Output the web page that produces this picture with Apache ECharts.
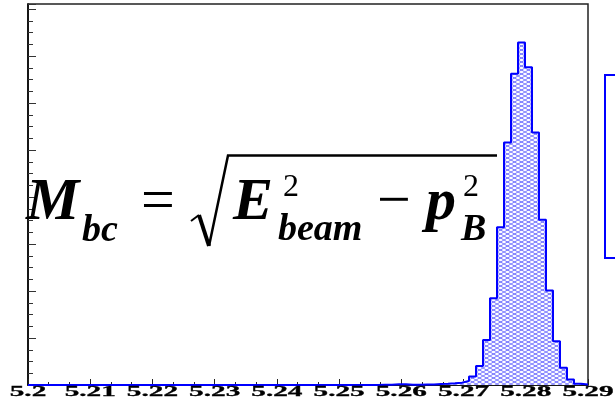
<!DOCTYPE html>
<html>
<head>
<meta charset="utf-8">
<script src="https://cdn.jsdelivr.net/npm/echarts@6/dist/echarts.min.js"></script>
<style>
  html, body { margin: 0; padding: 0; background: #fff; }
  #chart { width: 615px; height: 408px; }
</style>
</head>
<body>
<div id="chart"></div>
<script>
// Mbc histogram: 80 equal bins between 5.20 and 5.29 GeV
const histMin = 5.20;
const histMax = 5.29;
const binCounts = [
  0, 0, 0, 0, 0, 0, 0, 0, 0, 0,
  0, 0, 0, 0, 0, 0, 0, 0, 0, 0,
  0, 0, 0, 0, 0, 0, 0, 0, 0, 0,
  0, 0, 0, 0, 0, 0, 0, 0, 0, 0,
  0, 0, 0, 0, 0, 0, 0, 0, 0, 0,
  1, 1, 3, 3, 1, 1, 2, 2, 4, 5,
  7, 10, 17, 36, 81, 192, 369, 672, 1032, 1325,
  1458, 1353, 1075, 703, 402, 186, 73, 23, 5, 2
];
const xTickLabels = ['5.2', '5.21', '5.22', '5.23', '5.24', '5.25', '5.26', '5.27', '5.28', '5.29'];

const nBins = binCounts.length;
const binWidth = (histMax - histMin) / nBins;

// filled bins [lowEdge, highEdge, count]
const binData = binCounts.map((c, k) => [histMin + k * binWidth, histMin + (k + 1) * binWidth, c]);
// outline as a step line through the low edges, closed at the upper limit
const outline = binCounts.map((c, k) => [histMin + k * binWidth, c]);
outline.push([histMax, binCounts[nBins - 1]]);
outline.push([histMax, 0]);

// cross-hatch tile
const tile = document.createElement('canvas');
tile.width = 7; tile.height = 4;
(function () {
  const g = tile.getContext('2d');
  g.fillStyle = '#ffffff';
  g.fillRect(0, 0, 7, 4);
  g.strokeStyle = 'rgba(40,40,255,0.7)';
  g.lineWidth = 0.9;
  g.beginPath();
  g.moveTo(0, 0); g.lineTo(7, 4);
  g.moveTo(0, 4); g.lineTo(7, 0);
  g.stroke();
})();
const hatch = { image: tile, repeat: 'repeat' };

const chart = echarts.init(document.getElementById('chart'), null, { renderer: 'canvas' });

const serif = '"Liberation Serif", "Times New Roman", serif';

chart.setOption({
  animation: false,
  backgroundColor: '#ffffff',
  grid: { left: 28, right: 27, top: 4, bottom: 23, show: true, borderColor: '#222', borderWidth: 1.5, backgroundColor: 'transparent' },
  xAxis: {
    type: 'value', min: histMin, max: histMax, interval: 0.01,
    axisLine: { show: true, onZero: false, lineStyle: { color: '#000', width: 1.5 } },
    axisTick: { show: true, inside: true, length: 6, lineStyle: { color: '#222' } },
    minorTick: { show: true, splitNumber: 3, length: 3, lineStyle: { color: '#222' } },
    axisLabel: { show: false },
    splitLine: { show: false }
  },
  yAxis: {
    type: 'value', min: 0, max: 1622, interval: 200,
    axisLine: { show: true, lineStyle: { color: '#000', width: 1.5 } },
    axisTick: { show: true, inside: true, length: 8, lineStyle: { color: '#333' } },
    minorTick: { show: true, splitNumber: 4, length: 5, lineStyle: { color: '#333' } },
    axisLabel: { show: false },
    splitLine: { show: false }
  },
  series: [
    {
      type: 'custom',
      z: 3,
      data: binData,
      renderItem: function (params, api) {
        const lo = api.value(0), hi = api.value(1), v = api.value(2);
        if (v <= 0) return null;
        const p0 = api.coord([lo, 0]);
        const p1 = api.coord([hi, v]);
        return {
          type: 'rect',
          shape: { x: p0[0], y: p1[1], width: p1[0] - p0[0], height: p0[1] - p1[1] },
          style: { fill: hatch, stroke: null }
        };
      }
    },
    {
      type: 'line',
      z: 4,
      data: outline,
      step: 'end',
      showSymbol: false,
      symbol: 'none',
      lineStyle: { color: '#0000ff', width: 2 }
    }
  ]
});

// axis tick labels, drawn wide as in the ROOT style
const labelGraphics = xTickLabels.map(t => {
  const px = chart.convertToPixel({ xAxisIndex: 0 }, parseFloat(t));
  return {
    type: 'text', x: px, y: 392.5, scaleX: 1.95, z: 10,
    style: { text: t, x: 0, y: 0, align: 'center', verticalAlign: 'middle',
             font: 'bold 15px ' + serif, fill: '#000', stroke: '#000', lineWidth: 0.3 }
  };
});

const bi = 'italic bold ';
function txt(s, x, y, font) {
  return { type: 'text', z: 20, style: { text: s, x: x, y: y, align: 'left', verticalAlign: 'middle', font: font, fill: '#000' } };
}

const formula = [
  txt('M', 26, 203.7, bi + '60px ' + serif),
  txt('bc', 82, 231.4, bi + '38px ' + serif),
  txt('=', 141, 203.7, '60px ' + serif),
  txt('E', 233, 203.7, bi + '60px ' + serif),
  txt('2', 283, 187.2, '32px ' + serif),
  txt('beam', 278, 230.4, bi + '38px ' + serif),
  txt('\u2212', 377, 203.7, '60px ' + serif),
  txt('p', 426, 203.7, bi + '60px ' + serif),
  txt('2', 463, 187.2, '32px ' + serif),
  txt('B', 461, 230.4, bi + '38px ' + serif),
  // radical sign and vinculum
  { type: 'polyline', z: 20, shape: { points: [[191, 221], [199, 215]] }, style: { stroke: '#000', lineWidth: 2, fill: null } },
  { type: 'polyline', z: 20, shape: { points: [[199, 215], [209, 246]] }, style: { stroke: '#000', lineWidth: 4, fill: null } },
  { type: 'polyline', z: 20, shape: { points: [[209, 246], [228, 155.5], [497, 155.5]] }, style: { stroke: '#000', lineWidth: 2.5, fill: null, lineJoin: 'miter' } }
];

// statistics box at the right edge
const statBox = {
  type: 'rect', z: 15,
  shape: { x: 605, y: 75, width: 40, height: 183 },
  style: { fill: '#ffffff', stroke: '#0000ff', lineWidth: 2 }
};

chart.setOption({ graphic: labelGraphics.concat(formula, [statBox]) });
</script>
</body>
</html>
